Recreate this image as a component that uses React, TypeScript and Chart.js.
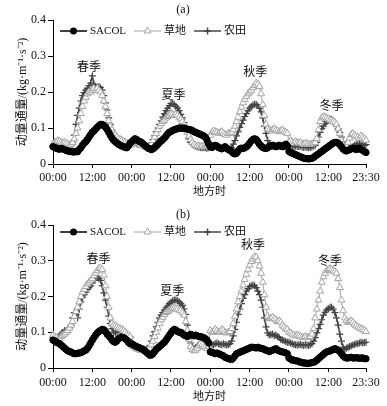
import React, { useEffect, useRef } from 'react';
import { Chart, registerables } from 'chart.js';

Chart.register(...registerables);

const SERIF = "'Liberation Serif', 'Times New Roman', 'Noto Sans CJK SC', serif";
Chart.defaults.font.family = SERIF;

const TICK_POS = [0, 24, 48, 72, 96, 120, 144, 168, 191];
const TICK_LABELS = ['00:00', '12:00', '00:00', '12:00', '00:00', '12:00', '00:00', '12:00', '23:30'];
const Y_TICKS = [0, 0.1, 0.2, 0.3, 0.4];
const Y_TICK_LABELS = ['0', '0.1', '0.2', '0.3', '0.4'];
const SERIES_NAMES = ['SACOL', '草地', '农田'];
const SEASON_NAMES = ['春季', '夏季', '秋季', '冬季'];
const X_TITLE = '地方时';
const Y_TITLE = '动量通量/(kg·m⁻¹·s⁻²)';

// season label anchors (x in half-hour index, y in flux units)
const A_SEASON_X = [22, 73.6, 123.4, 170];
const A_SEASON_Y = [0.268, 0.189, 0.253, 0.158];
const B_SEASON_X = [27.8, 72.7, 122, 169];
const B_SEASON_Y = [0.302, 0.213, 0.341, 0.296];

// ---------- panel (a) ----------
const A_SACOL_SPR = [0.048,0.046,0.044,0.042,0.041,0.043, 0.042,0.040,0.038,0.036,0.035,0.034, 0.034,0.033,0.035,0.034,0.040,0.045, 0.052,0.058,0.062,0.068,0.075,0.082, 0.088,0.092,0.097,0.102,0.106,0.110, 0.110,0.107,0.102,0.096,0.088,0.080, 0.072,0.066,0.062,0.058,0.055,0.052, 0.050,0.048,0.046,0.045,0.050,0.058];
const A_SACOL_SUM = [0.062,0.066,0.070,0.068,0.064,0.062, 0.060,0.056,0.052,0.048,0.044,0.042, 0.040,0.042,0.046,0.050,0.055,0.060, 0.064,0.068,0.072,0.078,0.084,0.088, 0.090,0.093,0.095,0.097,0.098,0.100, 0.100,0.099,0.100,0.098,0.097,0.096, 0.095,0.093,0.090,0.088,0.086,0.084, 0.082,0.080,0.078,0.074,0.066,0.056];
const A_SACOL_AUT = [0.048,0.046,0.050,0.052,0.050,0.046, 0.044,0.042,0.045,0.048,0.044,0.040, 0.038,0.035,0.030,0.028,0.030,0.036, 0.042,0.044,0.043,0.045,0.048,0.052, 0.058,0.064,0.068,0.070,0.068,0.062, 0.055,0.050,0.046,0.044,0.043,0.045, 0.048,0.050,0.052,0.050,0.048,0.050, 0.052,0.050,0.048,0.050,0.055,0.050];
const A_SACOL_WIN = [0.035,0.032,0.030,0.028,0.026,0.024, 0.022,0.020,0.018,0.016,0.015,0.015, 0.014,0.015,0.016,0.018,0.022,0.025, 0.028,0.032,0.035,0.038,0.042,0.045, 0.048,0.052,0.055,0.058,0.060,0.060, 0.058,0.054,0.048,0.042,0.038,0.036, 0.038,0.040,0.042,0.044,0.042,0.040, 0.042,0.044,0.040,0.038,0.035,0.032];

const A_GRASS_SPR = [0.055,0.060,0.062,0.065,0.063,0.060, 0.058,0.060,0.058,0.055,0.052,0.055, 0.060,0.070,0.085,0.100,0.120,0.140, 0.160,0.175,0.185,0.195,0.200,0.200, 0.205,0.210,0.205,0.210,0.205,0.200, 0.190,0.175,0.160,0.140,0.120,0.105, 0.095,0.085,0.080,0.075,0.070,0.068, 0.066,0.062,0.060,0.058,0.055,0.052];
const A_GRASS_SUM = [0.055,0.058,0.062,0.060,0.058,0.055, 0.052,0.050,0.048,0.047,0.046,0.048, 0.055,0.065,0.075,0.085,0.095,0.105, 0.112,0.118,0.122,0.128,0.132,0.135, 0.140,0.138,0.135,0.138,0.135,0.130, 0.125,0.118,0.108,0.098,0.088,0.078, 0.068,0.060,0.055,0.052,0.050,0.050, 0.048,0.050,0.048,0.050,0.052,0.055];
const A_GRASS_AUT = [0.080,0.088,0.092,0.090,0.088,0.085, 0.088,0.090,0.085,0.082,0.080,0.085, 0.085,0.088,0.095,0.105,0.118,0.130, 0.145,0.158,0.170,0.180,0.188,0.195, 0.200,0.205,0.212,0.218,0.225,0.222, 0.215,0.195,0.165,0.135,0.110,0.098, 0.095,0.092,0.095,0.098,0.095,0.092, 0.090,0.092,0.095,0.090,0.088,0.085];
const A_GRASS_WIN = [0.062,0.065,0.060,0.058,0.062,0.060, 0.058,0.060,0.056,0.055,0.058,0.056, 0.055,0.054,0.056,0.058,0.060,0.070, 0.095,0.118,0.128,0.132,0.130,0.128, 0.125,0.122,0.120,0.118,0.115,0.110, 0.098,0.085,0.065,0.052,0.048,0.050, 0.060,0.072,0.082,0.085,0.080,0.078, 0.075,0.072,0.078,0.075,0.070,0.066];

const A_CROP_SPR = [0.050,0.048,0.046,0.045,0.046,0.045, 0.044,0.045,0.044,0.043,0.045,0.050, 0.060,0.080,0.110,0.135,0.155,0.175, 0.190,0.198,0.205,0.210,0.218,0.225, 0.245,0.222,0.215,0.212,0.215,0.212, 0.205,0.190,0.170,0.150,0.128,0.110, 0.095,0.085,0.078,0.072,0.068,0.065, 0.062,0.060,0.058,0.056,0.055,0.052];
const A_CROP_SUM = [0.062,0.060,0.058,0.056,0.055,0.054, 0.052,0.050,0.050,0.048,0.047,0.050, 0.058,0.068,0.078,0.090,0.100,0.110, 0.120,0.130,0.140,0.148,0.155,0.162, 0.168,0.168,0.165,0.160,0.155,0.148, 0.138,0.128,0.115,0.100,0.085,0.070, 0.060,0.055,0.052,0.050,0.048,0.047, 0.046,0.045,0.046,0.045,0.044,0.045];
const A_CROP_AUT = [0.052,0.050,0.048,0.050,0.048,0.046, 0.045,0.044,0.045,0.046,0.044,0.042, 0.042,0.045,0.055,0.065,0.078,0.090, 0.102,0.112,0.122,0.132,0.140,0.148, 0.155,0.160,0.164,0.166,0.165,0.162, 0.155,0.145,0.128,0.105,0.085,0.065, 0.055,0.052,0.050,0.052,0.050,0.048, 0.050,0.052,0.050,0.048,0.050,0.048];
const A_CROP_WIN = [0.050,0.052,0.050,0.048,0.050,0.049, 0.048,0.050,0.047,0.046,0.048,0.046, 0.045,0.046,0.048,0.050,0.052,0.060, 0.075,0.088,0.098,0.105,0.112,0.118, 0.122,0.125,0.124,0.120,0.112,0.105, 0.098,0.088,0.075,0.062,0.050,0.045, 0.042,0.044,0.046,0.048,0.052,0.055, 0.055,0.056,0.054,0.055,0.052,0.054];

// ---------- panel (b) ----------
const B_SACOL_SPR = [0.078,0.076,0.072,0.070,0.068,0.064, 0.060,0.056,0.052,0.048,0.046,0.045, 0.042,0.040,0.040,0.041,0.042,0.043, 0.045,0.048,0.050,0.055,0.062,0.070, 0.078,0.085,0.092,0.098,0.102,0.105, 0.108,0.107,0.102,0.095,0.090,0.085, 0.078,0.074,0.072,0.076,0.082,0.085, 0.086,0.085,0.082,0.078,0.072,0.068];
const B_SACOL_SUM = [0.068,0.065,0.062,0.060,0.058,0.056, 0.054,0.052,0.048,0.044,0.040,0.036, 0.036,0.040,0.046,0.052,0.056,0.060, 0.064,0.068,0.072,0.078,0.085,0.092, 0.098,0.104,0.108,0.106,0.102,0.100, 0.100,0.096,0.092,0.090,0.088,0.092, 0.094,0.092,0.090,0.092,0.090,0.088, 0.088,0.086,0.085,0.082,0.078,0.070];
const B_SACOL_AUT = [0.045,0.044,0.042,0.040,0.042,0.040, 0.038,0.036,0.034,0.030,0.028,0.026, 0.025,0.024,0.028,0.034,0.040,0.042, 0.044,0.046,0.048,0.050,0.052,0.054, 0.056,0.058,0.058,0.057,0.056,0.058, 0.056,0.055,0.054,0.052,0.050,0.048, 0.046,0.048,0.050,0.052,0.054,0.050, 0.048,0.046,0.045,0.044,0.042,0.040];
const B_SACOL_WIN = [0.028,0.025,0.022,0.022,0.020,0.020, 0.018,0.016,0.015,0.014,0.014,0.013, 0.013,0.014,0.015,0.016,0.018,0.022, 0.026,0.030,0.034,0.038,0.042,0.045, 0.046,0.048,0.050,0.052,0.054,0.052, 0.050,0.046,0.040,0.034,0.030,0.028, 0.028,0.029,0.030,0.028,0.028,0.029, 0.028,0.027,0.028,0.028,0.026,0.026];

const B_GRASS_SPR = [0.092,0.088,0.085,0.080,0.082,0.088, 0.092,0.095,0.100,0.105,0.112,0.120, 0.130,0.145,0.158,0.170,0.185,0.200, 0.212,0.220,0.228,0.235,0.240,0.245, 0.250,0.258,0.265,0.272,0.278,0.280, 0.275,0.260,0.230,0.200,0.170,0.140, 0.125,0.120,0.118,0.115,0.112,0.110, 0.108,0.105,0.100,0.095,0.092,0.088];
const B_GRASS_SUM = [0.065,0.060,0.056,0.054,0.052,0.050, 0.050,0.048,0.050,0.048,0.050,0.055, 0.065,0.075,0.088,0.100,0.112,0.125, 0.135,0.142,0.150,0.155,0.158,0.162, 0.165,0.168,0.168,0.166,0.165,0.162, 0.160,0.155,0.148,0.130,0.105,0.080, 0.060,0.052,0.048,0.050,0.055,0.062, 0.068,0.065,0.060,0.058,0.055,0.060];
const B_GRASS_AUT = [0.105,0.100,0.102,0.108,0.104,0.100, 0.102,0.108,0.105,0.100,0.098,0.100, 0.102,0.110,0.125,0.145,0.165,0.185, 0.200,0.215,0.232,0.248,0.262,0.275, 0.288,0.298,0.305,0.312,0.310,0.300, 0.285,0.265,0.240,0.205,0.170,0.145, 0.138,0.140,0.142,0.138,0.135,0.130, 0.132,0.128,0.120,0.115,0.110,0.108];
const B_GRASS_WIN = [0.100,0.098,0.095,0.092,0.090,0.092, 0.090,0.088,0.086,0.085,0.088,0.086, 0.085,0.088,0.095,0.110,0.140,0.165, 0.190,0.215,0.240,0.255,0.265,0.272, 0.275,0.278,0.275,0.272,0.270,0.265, 0.250,0.225,0.190,0.160,0.140,0.132, 0.128,0.130,0.132,0.128,0.122,0.118, 0.115,0.112,0.110,0.108,0.105,0.102];

const B_CROP_SPR = [0.085,0.082,0.080,0.085,0.090,0.095, 0.100,0.105,0.100,0.108,0.112,0.120, 0.140,0.155,0.148,0.140,0.165,0.185, 0.198,0.205,0.212,0.220,0.225,0.230, 0.238,0.245,0.252,0.255,0.250,0.245, 0.230,0.210,0.190,0.170,0.145,0.125, 0.110,0.100,0.098,0.102,0.108,0.105, 0.100,0.098,0.095,0.092,0.090,0.088];
const B_CROP_SUM = [0.070,0.065,0.060,0.058,0.056,0.055, 0.052,0.050,0.050,0.052,0.055,0.062, 0.075,0.090,0.102,0.115,0.128,0.140, 0.148,0.155,0.162,0.168,0.174,0.180, 0.184,0.188,0.190,0.190,0.188,0.185, 0.180,0.175,0.165,0.150,0.120,0.090, 0.070,0.058,0.055,0.056,0.060,0.065, 0.070,0.068,0.065,0.062,0.060,0.058];
const B_CROP_AUT = [0.068,0.066,0.065,0.068,0.070,0.068, 0.066,0.065,0.068,0.066,0.064,0.066, 0.068,0.075,0.090,0.108,0.128,0.150, 0.165,0.180,0.195,0.205,0.215,0.222, 0.228,0.230,0.232,0.230,0.225,0.215, 0.205,0.190,0.170,0.140,0.115,0.098, 0.092,0.094,0.095,0.090,0.092,0.088, 0.085,0.080,0.078,0.076,0.074,0.072];
const B_CROP_WIN = [0.072,0.070,0.068,0.066,0.065,0.064, 0.065,0.066,0.064,0.063,0.065,0.064, 0.063,0.065,0.068,0.075,0.085,0.098, 0.110,0.122,0.135,0.148,0.156,0.162, 0.166,0.170,0.170,0.165,0.155,0.140, 0.120,0.095,0.075,0.058,0.052,0.055, 0.058,0.060,0.062,0.064,0.066,0.068, 0.068,0.070,0.072,0.070,0.071,0.072];

const A_SACOL = [...A_SACOL_SPR, ...A_SACOL_SUM, ...A_SACOL_AUT, ...A_SACOL_WIN];
const A_GRASS = [...A_GRASS_SPR, ...A_GRASS_SUM, ...A_GRASS_AUT, ...A_GRASS_WIN];
const A_CROP = [...A_CROP_SPR, ...A_CROP_SUM, ...A_CROP_AUT, ...A_CROP_WIN];
const B_SACOL = [...B_SACOL_SPR, ...B_SACOL_SUM, ...B_SACOL_AUT, ...B_SACOL_WIN];
const B_GRASS = [...B_GRASS_SPR, ...B_GRASS_SUM, ...B_GRASS_AUT, ...B_GRASS_WIN];
const B_CROP = [...B_CROP_SPR, ...B_CROP_SUM, ...B_CROP_AUT, ...B_CROP_WIN];

const COLORS = ['#000000', '#a4a4a4', '#444444'];
const TEXT = '#111111';

type Panel = {
  title: string;
  series: number[][];
  seasonX: number[];
  seasonY: number[];
  titlePad: { top: number; bottom: number };
  xHeight: number;
  tickPad: number;
  xTitlePad: number;
  legendDy: number;
};

const PANEL_A: Panel = {
  title: '(a)', series: [A_SACOL, A_GRASS, A_CROP], seasonX: A_SEASON_X, seasonY: A_SEASON_Y,
  titlePad: { top: 2.8, bottom: 2.8 }, xHeight: 36, tickPad: 3, xTitlePad: 1.4, legendDy: 11,
};
const PANEL_B: Panel = {
  title: '(b)', series: [B_SACOL, B_GRASS, B_CROP], seasonX: B_SEASON_X, seasonY: B_SEASON_Y,
  titlePad: { top: 7.8, bottom: 2.8 }, xHeight: 38, tickPad: 4, xTitlePad: 2.4, legendDy: 7,
};

function drawMarker(ctx: CanvasRenderingContext2D, kind: number, x: number, y: number) {
  ctx.save();
  ctx.strokeStyle = COLORS[kind];
  ctx.fillStyle = kind === 0 ? COLORS[0] : '#ffffff';
  ctx.lineWidth = 1;
  if (kind === 0) {
    ctx.beginPath();
    ctx.arc(x, y, 3.5, 0, Math.PI * 2);
    ctx.fill();
  } else if (kind === 1) {
    const r = 4;
    ctx.beginPath();
    ctx.moveTo(x, y - r);
    ctx.lineTo(x + r * 0.87, y + r * 0.5);
    ctx.lineTo(x - r * 0.87, y + r * 0.5);
    ctx.closePath();
    ctx.fill();
    ctx.stroke();
  } else {
    ctx.lineWidth = 1.5;
    ctx.beginPath();
    ctx.moveTo(x - 3.5, y);
    ctx.lineTo(x + 3.5, y);
    ctx.moveTo(x, y - 3.5);
    ctx.lineTo(x, y + 3.5);
    ctx.stroke();
  }
  ctx.restore();
}

function makeOverlay(panel: Panel) {
  return {
    id: 'overlay',
    afterDatasetsDraw(chart: any) {
      const ctx: CanvasRenderingContext2D = chart.ctx;
      const area = chart.chartArea;
      const xs = chart.scales.x;
      const ys = chart.scales.y;
      ctx.save();
      // season labels
      ctx.fillStyle = TEXT;
      ctx.font = `12px ${SERIF}`;
      ctx.textAlign = 'center';
      ctx.textBaseline = 'middle';
      SEASON_NAMES.forEach((name, i) => {
        ctx.fillText(name, xs.getPixelForValue(panel.seasonX[i]), ys.getPixelForValue(panel.seasonY[i]));
      });
      // legend inside plot area
      ctx.font = `11px ${SERIF}`;
      ctx.textAlign = 'left';
      let x = area.left + 7;
      const y = area.top + panel.legendDy;
      SERIES_NAMES.forEach((name, i) => {
        ctx.save();
        ctx.strokeStyle = COLORS[i];
        ctx.lineWidth = i === 1 ? 1 : 1.5;
        ctx.beginPath();
        ctx.moveTo(x, y);
        ctx.lineTo(x + 27, y);
        ctx.stroke();
        ctx.restore();
        drawMarker(ctx, i, x + 13.5, y);
        ctx.fillStyle = TEXT;
        ctx.fillText(name, x + 30, y + 0.5);
        x += 30 + ctx.measureText(name).width + 8;
      });
      ctx.restore();
    },
  };
}

function makeConfig(panel: Panel): any {
  const styles = [
    { pointStyle: 'circle', pointRadius: 3.2, borderWidth: 1.5, pointBorderWidth: 1, bg: COLORS[0] },
    { pointStyle: 'triangle', pointRadius: 4, borderWidth: 1, pointBorderWidth: 1, bg: '#ffffff' },
    { pointStyle: 'cross', pointRadius: 3.5, borderWidth: 1.5, pointBorderWidth: 1.2, bg: COLORS[2] },
  ];
  return {
    type: 'line',
    data: {
      datasets: panel.series.map((vals, i) => ({
        label: SERIES_NAMES[i],
        data: vals.map((v, k) => ({ x: k, y: v })),
        borderColor: COLORS[i],
        backgroundColor: styles[i].bg,
        pointBackgroundColor: styles[i].bg,
        pointBorderColor: COLORS[i],
        pointStyle: styles[i].pointStyle,
        pointRadius: styles[i].pointRadius,
        pointBorderWidth: styles[i].pointBorderWidth,
        borderWidth: styles[i].borderWidth,
        tension: 0,
        clip: false,
      })),
    },
    options: {
      animation: false,
      responsive: false,
      events: [],
      layout: { padding: { top: 0, right: 21, bottom: 0, left: 0 } },
      plugins: {
        legend: { display: false },
        tooltip: { enabled: false },
        title: {
          display: true, text: panel.title, color: TEXT,
          font: { family: SERIF, size: 12, weight: 'normal' },
          padding: panel.titlePad,
        },
      },
      scales: {
        x: {
          type: 'linear', min: 0, max: 191,
          afterBuildTicks: (s: any) => { s.ticks = TICK_POS.map((v) => ({ value: v })); },
          afterFit: (s: any) => { s.height = panel.xHeight; },
          ticks: {
            autoSkip: false, maxRotation: 0, padding: panel.tickPad, color: TEXT,
            font: { family: SERIF, size: 12 },
            callback: (_v: any, i: number) => TICK_LABELS[i],
          },
          grid: { display: true, drawOnChartArea: false, drawTicks: true, tickLength: 4, color: '#000', lineWidth: 1 },
          border: { display: true, color: '#000', width: 1 },
          title: {
            display: true, text: X_TITLE, color: TEXT,
            font: { family: SERIF, size: 11 }, padding: { top: 0, bottom: panel.xTitlePad },
          },
        },
        y: {
          type: 'linear', min: 0, max: 0.4,
          afterBuildTicks: (s: any) => { s.ticks = Y_TICKS.map((v) => ({ value: v })); },
          afterFit: (s: any) => { s.width = 53; },
          ticks: {
            padding: 2, color: TEXT, font: { family: SERIF, size: 12 },
            callback: (_v: any, i: number) => Y_TICK_LABELS[i],
          },
          grid: { display: true, drawOnChartArea: false, drawTicks: true, tickLength: 5, color: '#000', lineWidth: 1 },
          border: { display: true, color: '#000', width: 1 },
          title: {
            display: true, text: Y_TITLE, color: TEXT,
            font: { family: SERIF, size: 12 }, padding: { top: 15.5, bottom: 0 },
          },
        },
      },
    },
    plugins: [makeOverlay(panel)],
  };
}

function PanelChart({ panel, height }: { panel: Panel; height: number }) {
  const ref = useRef<HTMLCanvasElement | null>(null);
  useEffect(() => {
    if (!ref.current) return;
    const chart = new Chart(ref.current, makeConfig(panel));
    return () => chart.destroy();
  }, [panel]);
  return <canvas ref={ref} width={387} height={height} style={{ display: 'block', width: 387, height }} />;
}

export default function App() {
  return (
    <div style={{ position: 'absolute', left: 0, top: 0, width: 387, height: 406, background: '#ffffff' }}>
      <PanelChart panel={PANEL_A} height={200} />
      <PanelChart panel={PANEL_B} height={206} />
    </div>
  );
}
